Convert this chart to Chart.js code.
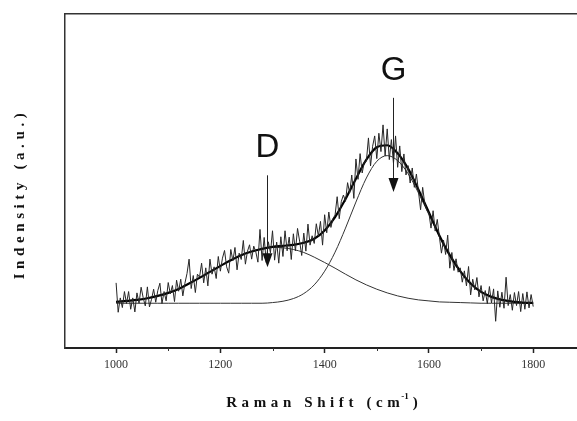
<!DOCTYPE html>
<html>
<head>
<meta charset="utf-8">
<script src="https://cdn.jsdelivr.net/npm/chart.js@4/dist/chart.umd.min.js"></script>
<style>
  html, body { margin: 0; padding: 0; background: #fff; }
  #wrap { width: 577px; height: 421px; }
</style>
</head>
<body>
<div id="wrap"><canvas id="ramanChart"></canvas></div>
<script>
// Raman spectrum, sampled every 4 cm-1
var rawShift = [
  1000, 1004, 1008, 1012, 1016, 1020, 1024, 1028, 1032, 1036,
  1040, 1044, 1048, 1052, 1056, 1060, 1064, 1068, 1072, 1076,
  1080, 1084, 1088, 1092, 1096, 1100, 1104, 1108, 1112, 1116,
  1120, 1124, 1128, 1132, 1136, 1140, 1144, 1148, 1152, 1156,
  1160, 1164, 1168, 1172, 1176, 1180, 1184, 1188, 1192, 1196,
  1200, 1204, 1208, 1212, 1216, 1220, 1224, 1228, 1232, 1236,
  1240, 1244, 1248, 1252, 1256, 1260, 1264, 1268, 1272, 1276,
  1280, 1284, 1288, 1292, 1296, 1300, 1304, 1308, 1312, 1316,
  1320, 1324, 1328, 1332, 1336, 1340, 1344, 1348, 1352, 1356,
  1360, 1364, 1368, 1372, 1376, 1380, 1384, 1388, 1392, 1396,
  1400, 1404, 1408, 1412, 1416, 1420, 1424, 1428, 1432, 1436,
  1440, 1444, 1448, 1452, 1456, 1460, 1464, 1468, 1472, 1476,
  1480, 1484, 1488, 1492, 1496, 1500, 1504, 1508, 1512, 1516,
  1520, 1524, 1528, 1532, 1536, 1540, 1544, 1548, 1552, 1556,
  1560, 1564, 1568, 1572, 1576, 1580, 1584, 1588, 1592, 1596,
  1600, 1604, 1608, 1612, 1616, 1620, 1624, 1628, 1632, 1636,
  1640, 1644, 1648, 1652, 1656, 1660, 1664, 1668, 1672, 1676,
  1680, 1684, 1688, 1692, 1696, 1700, 1704, 1708, 1712, 1716,
  1720, 1724, 1728, 1732, 1736, 1740, 1744, 1748, 1752, 1756,
  1760, 1764, 1768, 1772, 1776, 1780, 1784, 1788, 1792, 1796,
  1800
];
var rawIntensity = [
  19.5, 10.7, 15.0, 12.1, 16.9, 13.3, 16.9, 11.6, 15.0, 10.8,
  16.5, 13.4, 18.2, 15.0, 12.6, 18.3, 12.3, 14.6, 17.6, 13.7,
  17.2, 19.4, 13.3, 16.9, 14.1, 19.6, 16.2, 18.7, 13.9, 20.3,
  17.0, 20.6, 15.6, 19.4, 22.3, 26.6, 17.8, 21.7, 16.6, 22.1,
  21.2, 25.4, 19.5, 24.0, 18.6, 26.6, 22.1, 24.3, 20.8, 27.4,
  23.0, 26.9, 29.2, 24.3, 22.4, 29.5, 26.1, 30.1, 23.4, 28.4,
  26.5, 32.2, 25.1, 29.0, 30.9, 26.6, 30.5, 28.8, 25.7, 35.5,
  26.2, 33.1, 25.6, 31.8, 28.5, 35.1, 26.3, 31.7, 25.4, 33.3,
  27.4, 35.1, 29.1, 33.2, 26.5, 34.2, 29.1, 35.8, 32.0, 27.7,
  34.4, 29.0, 37.1, 30.8, 33.6, 31.3, 37.2, 33.5, 37.9, 30.8,
  39.9, 34.5, 40.7, 36.1, 38.8, 39.8, 45.3, 38.7, 43.9, 45.8,
  43.9, 49.5, 46.4, 51.8, 44.8, 56.6, 50.5, 58.2, 52.4, 55.7,
  55.9, 62.9, 54.5, 60.4, 63.5, 56.7, 64.3, 58.8, 66.8, 57.5,
  65.6, 56.4, 62.4, 55.3, 63.5, 54.1, 60.5, 52.8, 58.1, 51.8,
  54.6, 49.4, 53.9, 48.1, 52.1, 46.8, 41.4, 48.1, 43.2, 41.3,
  40.4, 35.9, 41.1, 35.0, 38.5, 33.4, 28.4, 32.3, 28.0, 33.8,
  23.9, 28.6, 23.2, 26.7, 22.7, 24.0, 19.7, 23.1, 18.6, 24.4,
  15.9, 20.6, 17.4, 21.1, 15.3, 18.7, 14.1, 17.2, 13.3, 18.4,
  13.5, 17.7, 8.0, 17.1, 12.2, 16.7, 11.9, 21.2, 12.7, 16.0,
  11.3, 16.6, 12.7, 16.9, 10.9, 16.3, 11.6, 16.8, 12.0, 16.0,
  12.4
];

// fitted bands and their sum, every 20 cm-1
var fitShift = [
  1000, 1020, 1040, 1060, 1080, 1100, 1120, 1140, 1160, 1180,
  1200, 1220, 1240, 1260, 1280, 1300, 1320, 1340, 1360, 1380,
  1400, 1420, 1440, 1460, 1480, 1500, 1520, 1540, 1560, 1580,
  1600, 1620, 1640, 1660, 1680, 1700, 1720, 1740, 1760, 1780,
  1800
];
var dBand = [
  13.8, 14.1, 14.4, 14.9, 15.6, 16.5, 17.7, 19.3, 21.0, 22.8,
  24.6, 26.3, 27.8, 28.9, 29.7, 30.1, 30.0, 29.5, 28.6, 27.2,
  25.6, 23.9, 22.1, 20.4, 18.9, 17.6, 16.5, 15.6, 14.9, 14.4,
  14.1, 13.8, 13.7, 13.6, 13.5, 13.4, 13.4, 13.4, 13.4, 13.4,
  13.4
];
var gBand = [
  13.4, 13.4, 13.4, 13.4, 13.4, 13.4, 13.4, 13.4, 13.4, 13.4,
  13.4, 13.4, 13.4, 13.4, 13.4, 13.6, 14.0, 14.8, 16.3, 18.9,
  23.0, 28.7, 35.9, 43.7, 50.9, 55.9, 57.6, 56.1, 52.2, 46.4,
  39.9, 33.3, 27.5, 22.8, 19.2, 16.8, 15.3, 14.4, 13.9, 13.6,
  13.5
];
var fitTotal = [
  13.8, 14.1, 14.4, 14.9, 15.6, 16.5, 17.7, 19.3, 21.0, 22.8,
  24.6, 26.3, 27.8, 28.9, 29.7, 30.3, 30.6, 30.9, 31.5, 32.7,
  35.2, 39.2, 44.6, 50.7, 56.4, 60.1, 60.7, 58.3, 53.7, 47.4,
  40.6, 33.7, 27.8, 23.0, 19.3, 16.8, 15.3, 14.4, 13.9, 13.6,
  13.5
];

var majorTicks = [1000, 1200, 1400, 1600, 1800];
var minorTicks = [1100, 1300, 1500, 1700];

// band markers: label, position on the shift axis, arrow from/to (intensity units)
var bandLabels = ['D', 'G'];
var bandPos = [1290, 1532];
var arrowTop = [51.7, 74.9];
var arrowTip = [24.2, 46.7];

function pairs(xs, ys) {
  return xs.map(function (x, i) { return { x: x, y: ys[i] }; });
}

var decorations = {
  id: 'decorations',
  afterDraw: function (chart) {
    var ctx = chart.ctx;
    var xs = chart.scales.x;
    var ys = chart.scales.y;
    var area = chart.chartArea;
    ctx.save();

    // minor ticks under the axis
    ctx.strokeStyle = '#333';
    ctx.lineWidth = 1;
    minorTicks.forEach(function (v) {
      var px = Math.round(xs.getPixelForValue(v)) + 0.5;
      ctx.beginPath();
      ctx.moveTo(px, area.bottom);
      ctx.lineTo(px, area.bottom + 3);
      ctx.stroke();
    });

    // arrows and band letters
    ctx.fillStyle = '#111';
    ctx.strokeStyle = '#222';
    bandLabels.forEach(function (lab, i) {
      var px = Math.round(xs.getPixelForValue(bandPos[i])) + 0.5;
      var top = ys.getPixelForValue(arrowTop[i]);
      var tip = ys.getPixelForValue(arrowTip[i]);
      ctx.lineWidth = 1;
      ctx.beginPath();
      ctx.moveTo(px, top);
      ctx.lineTo(px, tip - 12);
      ctx.stroke();
      ctx.beginPath();
      ctx.moveTo(px - 5, tip - 14);
      ctx.lineTo(px + 5, tip - 14);
      ctx.lineTo(px, tip);
      ctx.closePath();
      ctx.fill();

      ctx.font = '33px "Liberation Sans", Arial, sans-serif';
      ctx.textAlign = 'center';
      ctx.textBaseline = 'alphabetic';
      ctx.fillText(lab, px, top - 18);
    });

    // axis titles with spaced letters
    ctx.fillStyle = '#111';
    ctx.textBaseline = 'alphabetic';
    ctx.font = 'bold 15px "Liberation Serif", "Times New Roman", serif';
    ctx.letterSpacing = '4.6px';
    var main = 'Raman Shift (cm';
    var wMain = ctx.measureText(main).width;
    ctx.font = 'bold 9px "Liberation Serif", serif';
    ctx.letterSpacing = '0px';
    var sup = '-1';
    var wSup = ctx.measureText(sup).width;
    ctx.font = 'bold 15px "Liberation Serif", serif';
    var wClose = ctx.measureText(')').width;
    var startX = 323 - (wMain + wSup + 3 + wClose) / 2;
    ctx.textAlign = 'left';
    ctx.letterSpacing = '4.6px';
    ctx.fillText(main, startX, 407);
    ctx.letterSpacing = '0px';
    ctx.font = 'bold 9px "Liberation Serif", serif';
    ctx.fillText(sup, startX + wMain - 3, 399);
    ctx.font = 'bold 15px "Liberation Serif", serif';
    ctx.fillText(')', startX + wMain + wSup + 1, 407);

    ctx.save();
    ctx.translate(24, 194);
    ctx.rotate(-Math.PI / 2);
    ctx.font = 'bold 15px "Liberation Serif", "Times New Roman", serif';
    ctx.letterSpacing = '4.6px';
    ctx.textAlign = 'center';
    ctx.fillText('Indensity (a.u.)', 0, 0);
    ctx.restore();

    ctx.restore();
  }
};

var ctx = document.getElementById('ramanChart').getContext('2d');
var ramanChart = new Chart(ctx, {
  type: 'line',
  data: {
    datasets: [{
      label: 'spectrum',
      data: pairs(rawShift, rawIntensity),
      borderColor: '#262626',
      borderWidth: 1,
      pointRadius: 0,
      tension: 0
    }, {
      label: 'fit',
      data: pairs(fitShift, fitTotal),
      borderColor: '#000',
      borderWidth: 2.2,
      pointRadius: 0,
      cubicInterpolationMode: 'monotone'
    }, {
      label: 'D',
      data: pairs(fitShift, dBand),
      borderColor: '#333',
      borderWidth: 1,
      pointRadius: 0,
      cubicInterpolationMode: 'monotone'
    }, {
      label: 'G',
      data: pairs(fitShift, gBand),
      borderColor: '#333',
      borderWidth: 1,
      pointRadius: 0,
      cubicInterpolationMode: 'monotone'
    }]
  },
  options: {
    responsive: true,
    maintainAspectRatio: false,
    animation: false,
    layout: { padding: 0 },
    plugins: {
      legend: { display: false },
      tooltip: { enabled: false }
    },
    scales: {
      x: {
        type: 'linear',
        position: 'bottom',
        min: 902,
        max: 1884,
        afterBuildTicks: function (s) {
          s.ticks = majorTicks.map(function (v) { return { value: v }; });
        },
        afterFit: function (s) { s.height = 73; },
        ticks: {
          color: '#333',
          padding: 5,
          maxRotation: 0,
          font: { family: '"Liberation Serif", "Times New Roman", serif', size: 12 },
          callback: function (v) { return String(v); }
        },
        grid: {
          drawOnChartArea: false,
          drawTicks: true,
          tickLength: 5,
          tickColor: '#222',
          tickWidth: 1.5
        },
        border: { display: true, color: '#222', width: 2 }
      },
      xTop: {
        type: 'linear',
        position: 'top',
        min: 902,
        max: 1884,
        afterFit: function (s) { s.height = 14; },
        ticks: { display: false },
        grid: { display: false },
        border: { display: true, color: '#333', width: 1.5 }
      },
      y: {
        min: 0,
        max: 100,
        afterFit: function (s) { s.width = 65; },
        ticks: { display: false },
        grid: { display: false },
        border: { display: true, color: '#333', width: 1.5 }
      }
    }
  },
  plugins: [decorations]
});
</script>
</body>
</html>
